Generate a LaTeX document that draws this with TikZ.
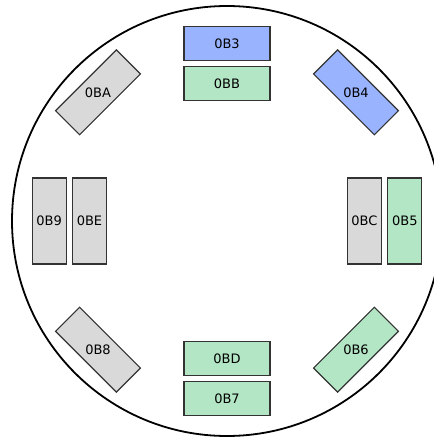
\documentclass[tikz,border=0pt]{standalone}
\usepackage{fontspec}
\setmainfont{DejaVu Sans}
\definecolor{boxblue}{HTML}{99B3FF}
\definecolor{boxgreen}{HTML}{B3E6C4}
\definecolor{boxgray}{HTML}{D9D9D9}
\definecolor{boxline}{HTML}{333333}
\begin{document}
\begin{tikzpicture}[x=1pt,y=1pt,
  obox/.style={draw=boxline, line width=1.1pt, rectangle, inner sep=0pt,
    minimum width=86pt, minimum height=34pt, font=\fontsize{13}{15}\selectfont},
  vbox/.style={obox, minimum width=34pt, minimum height=86pt},
  blue/.style={fill=boxblue},
  green/.style={fill=boxgreen},
  gray/.style={fill=boxgray},
  lbl/.style={font=\fontsize{13}{15}\selectfont, inner sep=0pt}]
\useasboundingbox (-227,-216) rectangle (207,221);
\clip (-227,-216) rectangle (207,221);
% outer ring
\draw[line width=1.8pt] (0,0) circle (215);
% top and bottom pairs
\node[obox, blue]  (ob3) at (0,177.7) {0B3};
\node[obox, green] (obb) at (0,137.5) {0BB};
\node[obox, green] (obd) at (0,-137.3) {0BD};
\node[obox, green] (ob7) at (0,-177.7) {0B7};
% left and right pairs
\node[vbox, gray]  (ob9) at (-177.8,0) {0B9};
\node[vbox, gray]  (obe) at (-137.5,0) {0BE};
\node[vbox, gray]  (obc) at (137.5,0) {0BC};
\node[vbox, green] (ob5) at (177.8,0) {0B5};
% diagonal boxes, labels kept upright
\node[obox, gray,  rotate=45]  (oba) at (-129,128.7) {};
\node[lbl] at (oba.center) {0BA};
\node[obox, blue,  rotate=-45] (ob4) at (129,128.7) {};
\node[lbl] at (ob4.center) {0B4};
\node[obox, gray,  rotate=-45] (ob8) at (-129,-128.7) {};
\node[lbl] at (ob8.center) {0B8};
\node[obox, green, rotate=45]  (ob6) at (129,-128.7) {};
\node[lbl] at (ob6.center) {0B6};
\end{tikzpicture}
\end{document}
